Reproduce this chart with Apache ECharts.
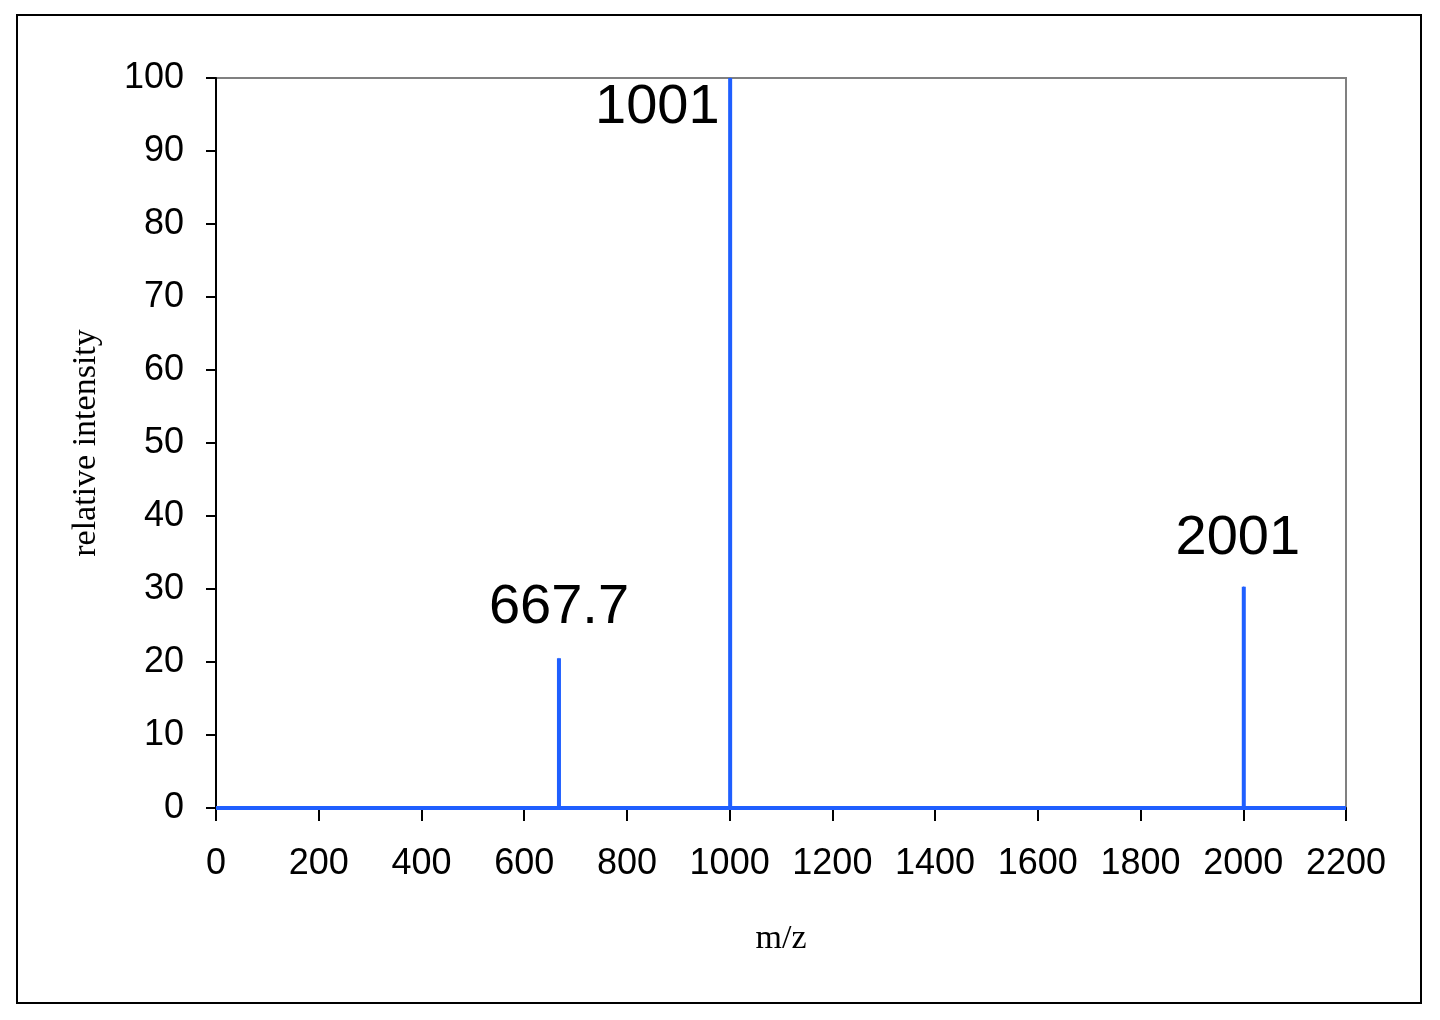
<!DOCTYPE html>
<html>
<head>
<meta charset="utf-8">
<script src="https://cdn.jsdelivr.net/npm/echarts@6/dist/echarts.min.js"></script>
<style>
html,body{margin:0;padding:0;background:#fff;}
#chart{width:1440px;height:1020px;}
</style>
</head>
<body>
<div id="chart"></div>
<script>
// Data
const peakMz = [667.7, 1001, 2001];
const peakIntensity = [20.5, 100, 30.3];
const peakLabels = ['667.7', '1001', '2001'];
const xRange = [0, 2200];
const yRange = [0, 100];
const xTickInterval = 200;
const yTickInterval = 10;

// Build stick spectrum line from peaks
const spectrum = [[xRange[0], 0]];
peakMz.forEach((mz, i) => {
  spectrum.push([mz, 0], [mz, peakIntensity[i]], [mz, 0]);
});
spectrum.push([xRange[1], 0]);

const labelPlacement = [
  {position: 'top', distance: 22, offset: [0, 0]},
  {position: 'left', distance: 10, offset: [0, 30]},
  {position: 'top', distance: 20, offset: [-6, 0]}
];
const peakPoints = peakMz.map((mz, i) => ({
  value: [mz, peakIntensity[i]],
  label: Object.assign({
    show: true, formatter: peakLabels[i], opacity: 1,
    color: '#000', fontFamily: 'Liberation Sans', fontSize: 56
  }, labelPlacement[i])
}));

const chart = echarts.init(document.getElementById('chart'));
chart.setOption({
  backgroundColor: '#fff',
  animation: false,
  graphic: [{
    type: 'rect',
    shape: {x: 17, y: 15, width: 1404, height: 988},
    style: {fill: 'none', stroke: '#000', lineWidth: 2},
    z: 100
  }],
  grid: {
    left: 216, top: 78, width: 1130, height: 730,
    show: true, borderColor: '#808080', borderWidth: 2, backgroundColor: '#fff'
  },
  xAxis: {
    type: 'value', min: xRange[0], max: xRange[1], interval: xTickInterval,
    name: 'm/z', nameLocation: 'middle', nameGap: 114,
    nameTextStyle: {fontFamily: 'Liberation Serif', fontSize: 34, color: '#000'},
    axisLine: {show: true, onZero: false, lineStyle: {color: '#000', width: 2}},
    axisTick: {show: true, length: 13, lineStyle: {color: '#000', width: 2}},
    axisLabel: {margin: 38, fontFamily: 'Liberation Sans', fontSize: 36, color: '#000',
      formatter: v => String(v)},
    splitLine: {show: false}
  },
  yAxis: {
    type: 'value', min: yRange[0], max: yRange[1], interval: yTickInterval,
    name: 'relative intensity', nameLocation: 'middle', nameGap: 113, nameRotate: 90,
    nameTextStyle: {fontFamily: 'Liberation Serif', fontSize: 34, color: '#000'},
    axisLine: {show: true, lineStyle: {color: '#000', width: 2}},
    axisTick: {show: true, length: 10, lineStyle: {color: '#000', width: 2}},
    axisLabel: {margin: 32, fontFamily: 'Liberation Sans', fontSize: 36, color: '#000'},
    splitLine: {show: false}
  },
  series: [{
    type: 'line',
    data: spectrum,
    showSymbol: false,
    lineStyle: {color: '#1f5fff', width: 4},
    z: 3
  }, {
    type: 'scatter',
    data: peakPoints,
    symbolSize: 1,
    itemStyle: {color: '#1f5fff', opacity: 1},
    z: 2
  }]
});
</script>
</body>
</html>
